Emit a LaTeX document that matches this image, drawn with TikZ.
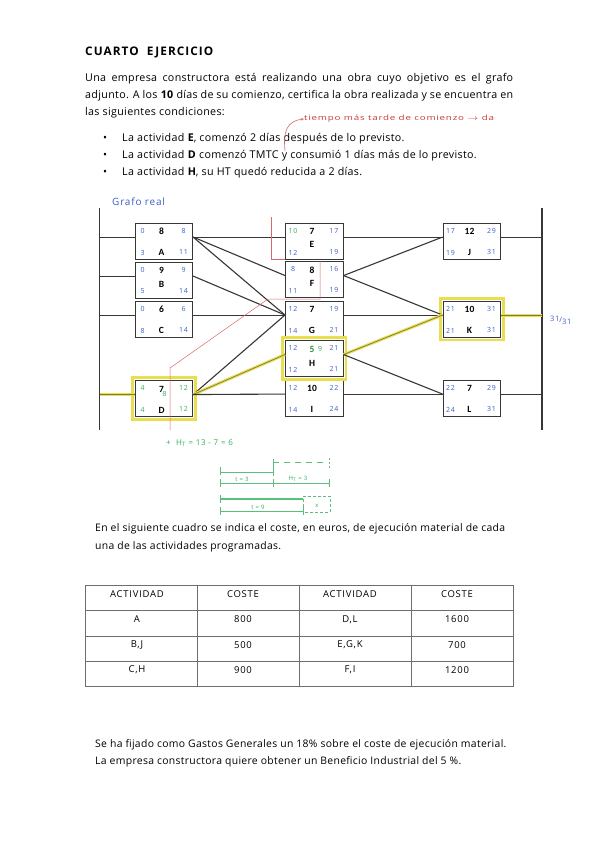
\documentclass[tikz,border=0pt]{standalone}
\usepackage{fontspec}
\setmainfont[LetterSpace=3]{Open Sans}
\newfontfamily\boxfont{Carlito}
\newfontfamily\titlefont[LetterSpace=9]{Open Sans}
\newfontfamily\handfont[LetterSpace=8]{Open Sans}
\newfontfamily\tabfont[LetterSpace=8]{Open Sans}
\usetikzlibrary{calc,arrows.meta}
\definecolor{hblue}{RGB}{60,95,200}
\definecolor{hgreen}{RGB}{50,175,90}
\definecolor{hred}{RGB}{205,55,55}
\definecolor{hilite}{RGB}{232,222,80}
\definecolor{linec}{RGB}{55,55,55}
\definecolor{tabline}{RGB}{110,110,110}
\tikzset{
  actn/.style={draw=linec, line width=1.1pt, minimum width=57.5pt, minimum height=36pt, inner sep=0pt, fill=white},
  num/.style={font=\handfont\fontsize{7}{8}\selectfont, text=hblue, inner sep=0pt},
  dur/.style={font=\boxfont\bfseries\fontsize{9.5}{10}\selectfont, inner sep=0pt},
  conn/.style={draw=linec, line width=1.1pt},
  crit/.style={draw=linec!60!hilite, line width=0.7pt, preaction={draw=hilite, line width=3pt}},
  rail/.style={draw=linec, line width=1.4pt},
  hl/.style={draw=hilite, line width=2.6pt},
  redl/.style={draw=hred!75, line width=0.5pt},
  grn/.style={draw=hgreen!80, line width=0.6pt},
  txt/.style={anchor=base west, inner sep=0pt, font=\fontsize{10.7}{13}\selectfont},
  txtb/.style={anchor=base west, inner sep=0pt, font=\fontsize{10.4}{13}\selectfont},
  tabtxt/.style={inner sep=0pt, font=\tabfont\fontsize{9.5}{11}\selectfont},
  hand/.style={inner sep=0pt, font=\handfont\fontsize{8}{9}\selectfont},
}
\newcommand\actbox[9]{%
  \node[actn, anchor=north west] (#1) at #2 {};
  \node[num] (#1tl) at ($(#1.north west)+(8,8)$) {#3};
  \node[dur] (#1du) at ($(#1.north west)+(27,9)$) {#4};
  \node[num] (#1tr) at ($(#1.north west)+(49,8)$) {#5};
  \node[num] (#1bl) at ($(#1.north west)+(8,30)$) {#6};
  \node[num] (#1br) at ($(#1.north west)+(49,29)$) {#7};
  \node[dur] (#1lt) at ($(#1.north west)+(27,#9)$) {#8};
  \coordinate (#1i) at ([yshift=4pt]#1.west);
  \coordinate (#1o) at ([yshift=4pt]#1.east);
}
\begin{document}
\begin{tikzpicture}[x=1pt,y=-1pt]
\useasboundingbox (0,0) rectangle (599,848);
\fill[white] (0,0) rectangle (599,848);

% ---------- header text ----------
\node[txt, font=\titlefont\bfseries\fontsize{11.8}{13}\selectfont] (title) at (85,56) {CUARTO\ \ EJERCICIO};
\node[txt] (p1) at (85,82) {\makebox[428pt][s]{Una empresa constructora está realizando una obra cuyo objetivo es el grafo}};
\node[txt] (p2) at (85,99) {\makebox[428pt][s]{adjunto. A los \textbf{10} días de su comienzo, certifica la obra realizada y se encuentra en}};
\node[txt] (p3) at (85,116) {las siguientes condiciones:};
\node[txt] (b1d) at (103,141) {\textbullet};
\node[txt] (b2d) at (103,158) {\textbullet};
\node[txt] (b3d) at (103,175) {\textbullet};
\node[txt] (b1) at (122,141) {La actividad \textbf{E}, comenzó 2 días después de lo previsto.};
\node[txt] (b2) at (122,158) {La actividad \textbf{D} comenzó TMTC y consumió 1 días más de lo previsto.};
\node[txt] (b3) at (122,175) {La actividad \textbf{H}, su HT quedó reducida a 2 días.};

% red note
\node[hand, text=hred, anchor=west, font=\handfont\fontsize{7}{9}\selectfont] (rn) at (304,119) {\scalebox{1.4}[1.05]{tiempo más tarde de comienzo $\rightarrow$ da}};
\coordinate (tmtc) at (285,151);
\draw[redl, line width=0.6pt, -{Stealth[length=3pt,width=2.5pt]}] (tmtc) .. controls (283,131) and (287,121) .. (rn.west);

% ---------- graph ----------
\node[hand, text=hblue, anchor=west, font=\handfont\fontsize{10}{11}\selectfont] (gr) at (112,202) {Grafo real};
\coordinate (Ls) at (99.5,208);
\coordinate (Le) at (99.5,430);
\coordinate (Rs) at (542,208);
\coordinate (Re) at (542,430);
\draw[rail] (Ls) -- (Le);
\draw[rail] (Rs) -- (Re);

\actbox{A}{(134.5,222.5)}{0}{8}{8}{3}{11}{A}{30}
\actbox{B}{(134.5,261.5)}{0}{9}{9}{5}{14}{B}{23}
\actbox{C}{(134.5,300.5)}{0}{6}{6}{8}{14}{C}{30}
\actbox{D}{(134.5,380)}{\color{hgreen}4}{7}{\color{hgreen}12}{\color{hgreen}4}{\color{hgreen}12}{D}{30}
\actbox{E}{(285,222.5)}{\color{hgreen}10}{7}{17}{12}{19}{E}{22}
\actbox{F}{(285,261)}{8}{8}{16}{11}{19}{F}{22}
\actbox{G}{(285,300.5)}{12}{7}{19}{14}{21}{G}{30}
\actbox{H}{(285,340)}{12}{\color{hgreen!80!black}5}{21}{12}{21}{H}{23}
\actbox{I}{(285,379.5)}{12}{10}{22}{14}{24}{I}{30}
\actbox{J}{(442.5,222.5)}{17}{12}{29}{19}{31}{J}{30}
\actbox{K}{(442.5,300.5)}{21}{10}{31}{21}{31}{K}{30}
\actbox{L}{(442.5,379.5)}{22}{7}{29}{24}{31}{L}{30}

\node[num, text=hgreen] (Dx) at ($(D.north west)+(30,14)$) {8};
\node[num, text=hgreen] (Hx) at ($(H.north west)+(35,9)$) {9};

% yellow highlight frames
\draw[hl] ($(D.north west)+(-2.3,-2.3)$) rectangle ($(D.south east)+(2.3,2.3)$);
\draw[hl] ($(H.north west)+(-2.3,-2.3)$) rectangle ($(H.south east)+(2.3,2.3)$);
\draw[hl] ($(K.north west)+(-2.3,-2.3)$) rectangle ($(K.south east)+(2.3,2.3)$);

% connectors
\draw[conn] (Ai -| Ls) -- (Ai);
\draw[conn] (Bi -| Ls) -- (Bi);
\draw[conn] (Ci -| Ls) -- (Ci);
\draw[crit] (Di -| Ls) -- (Di);
\draw[conn] (Ao) -- (Ei);
\draw[conn] (Ao) -- (Fi);
\draw[conn] (Ao) -- (Gi);
\draw[conn] (Bo) -- (Gi);
\draw[conn] (Co) -- (Gi);
\draw[conn] (Do) -- (Gi);
\draw[crit] (Do) -- (Hi);
\draw[conn] (Do) -- (Ii);
\draw[conn] (Eo) -- (Ji);
\draw[conn] (Fo) -- (Ji);
\draw[conn] (Fo) -- (Ki);
\draw[conn] (Go) -- (Ki);
\draw[crit] (Ho) -- (Ki);
\draw[conn] (Ho) -- (Li);
\draw[conn] (Io) -- (Li);
\draw[conn] (Jo) -- (Jo -| Rs);
\draw[crit] (Ko) -- (Ko -| Rs);
\draw[conn] (Lo) -- (Lo -| Rs);

\node[hand, text=hblue, anchor=west, font=\handfont\fontsize{7.5}{9}\selectfont] (tot) at (550,320) {\raisebox{1.5pt}{31}/\raisebox{-1.5pt}{31}};

% red annotation lines
\draw[redl] (170,430) -- (170,368) -- (268,299) -- (320,299) -- (320,261);
\draw[redl] (271,217) -- (271,259) -- (285,259);

% green annotations
\node[hand, text=hgreen, anchor=west] (ht) at (166,443) {+\ \ H\textsubscript{T} = 13 - 7 = 6};
\draw[grn] (220,467) -- (220,475);
\draw[grn] (220,472) -- (273,472);
\draw[grn] (273,459) -- (273,476);
\draw[grn, dash pattern=on 6pt off 5pt] (273,462) -- (328,462);
\draw[grn, dash pattern=on 2pt off 2pt] (329,458) -- (329,468);
\draw[grn] (220,483) -- (329,483);
\draw[grn] (220,479) -- (220,487);
\draw[grn] (273,479) -- (273,487);
\draw[grn] (329,479) -- (329,487);
\node[hand, text=hgreen, font=\handfont\fontsize{6}{7}\selectfont] (t3) at (242,479) {t = 3};
\node[hand, text=hgreen, font=\handfont\fontsize{6}{7}\selectfont] (h3) at (298,479) {H\textsubscript{T} = 3};
\draw[grn] (220,495) -- (220,503);
\draw[grn, line width=1.5pt] (221,499) -- (303,499);
\draw[grn, dash pattern=on 3pt off 2pt] (303,496) -- (330,496) -- (330,512) -- (303,512) -- cycle;
\draw[grn] (220,511) -- (303,511);
\draw[grn] (220,507) -- (220,515);
\draw[grn] (303,507) -- (303,515);
\node[hand, text=hgreen, font=\handfont\fontsize{6}{7}\selectfont] (t9) at (258,507) {t = 9};
\node[hand, text=hgreen, font=\handfont\fontsize{6}{7}\selectfont] (xx) at (317,506) {x};

% ---------- second text ----------
\node[txtb] (q1) at (95,531) {\makebox[410pt][s]{En el siguiente cuadro se indica el coste, en euros, de ejecución material de cada}};
\node[txtb] (q2) at (95,549) {una de las actividades programadas.};

% ---------- table ----------
\draw[tabline, line width=1pt] (85.5,585) rectangle (513,686.5);
\foreach \yy in {610.5,636.5,661} \draw[tabline, line width=1pt] (85.5,\yy) -- (513,\yy);
\foreach \xx in {197,299.5,411} \draw[tabline, line width=1pt] (\xx,585) -- (\xx,686.5);
\node[tabtxt] (h1) at (137,594) {ACTIVIDAD};
\node[tabtxt] (h2) at (243,594) {COSTE};
\node[tabtxt] (h3) at (350,594) {ACTIVIDAD};
\node[tabtxt] (h4) at (457,594) {COSTE};
\node[tabtxt] (r11) at (137,619.5) {A};
\node[tabtxt] (r12) at (243,619.5) {800};
\node[tabtxt] (r13) at (350,619.5) {D,L};
\node[tabtxt] (r14) at (457,619.5) {1600};
\node[tabtxt] (r21) at (137,645) {B,J};
\node[tabtxt] (r22) at (243,645) {500};
\node[tabtxt] (r23) at (350,645) {E,G,K};
\node[tabtxt] (r24) at (457,645) {700};
\node[tabtxt] (r31) at (137,670) {C,H};
\node[tabtxt] (r32) at (243,670) {900};
\node[tabtxt] (r33) at (350,670) {F,I};
\node[tabtxt] (r34) at (457,670) {1200};

% ---------- final text ----------
\node[txtb] (s1) at (95,747) {Se ha fijado como Gastos Generales un 18\% sobre el coste de ejecución material.};
\node[txtb] (s2) at (95,764) {La empresa constructora quiere obtener un Beneficio Industrial del 5 \%.};
\end{tikzpicture}
\end{document}
